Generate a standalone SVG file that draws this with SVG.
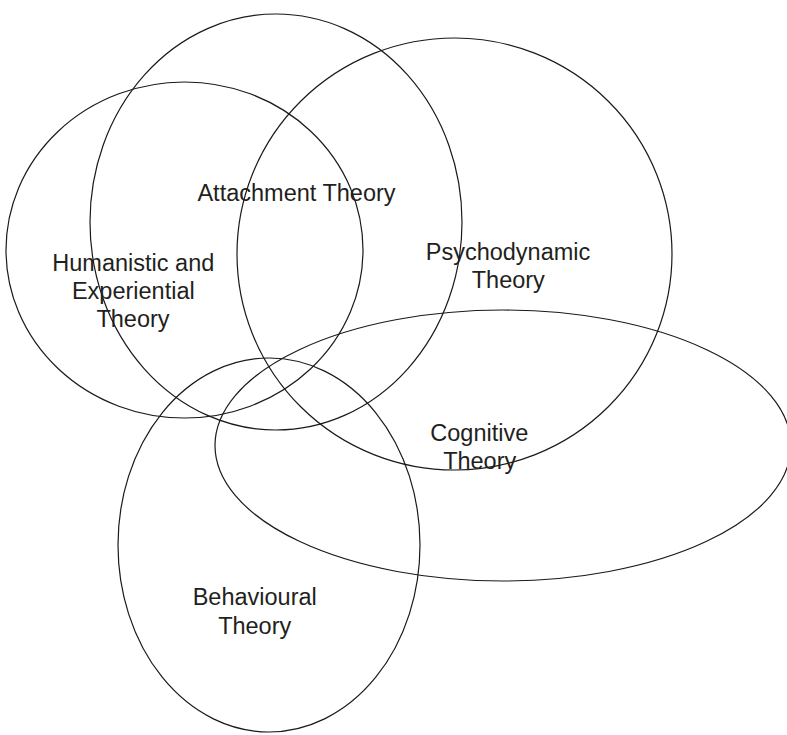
<svg xmlns="http://www.w3.org/2000/svg" width="787" height="735" viewBox="0 0 787 735">
<style>
.c{fill:none;stroke:#1a1a1a;stroke-width:1.2}
.t{font-family:"Liberation Sans",Arial,sans-serif;font-size:23.5px;fill:#231f20;text-anchor:middle}
</style>
<rect width="787" height="735" fill="#fff"/>
<g id="attachment"><ellipse class="c" cx="276" cy="222" rx="186" ry="208"/></g>
<g id="humanistic"><ellipse class="c" cx="184.5" cy="250" rx="178.5" ry="168"/></g>
<g id="psychodynamic"><ellipse class="c" cx="454.5" cy="254" rx="217.5" ry="216"/></g>
<g id="cognitive"><ellipse class="c" cx="503" cy="445.5" rx="288" ry="135.5"/></g>
<g id="behavioural"><ellipse class="c" cx="269" cy="545" rx="151" ry="187"/></g>
<g id="labels">
<text class="t" x="296.5" y="201">Attachment Theory</text>
<text class="t" x="133.3" y="270.5">Humanistic and</text>
<text class="t" x="133.3" y="299">Experiential</text>
<text class="t" x="133" y="327">Theory</text>
<text class="t" x="508" y="259.5">Psychodynamic</text>
<text class="t" x="508.3" y="287.5">Theory</text>
<text class="t" x="479.3" y="441">Cognitive</text>
<text class="t" x="479.7" y="469">Theory</text>
<text class="t" x="254.7" y="604.5">Behavioural</text>
<text class="t" x="254.7" y="634">Theory</text>
</g>
</svg>
